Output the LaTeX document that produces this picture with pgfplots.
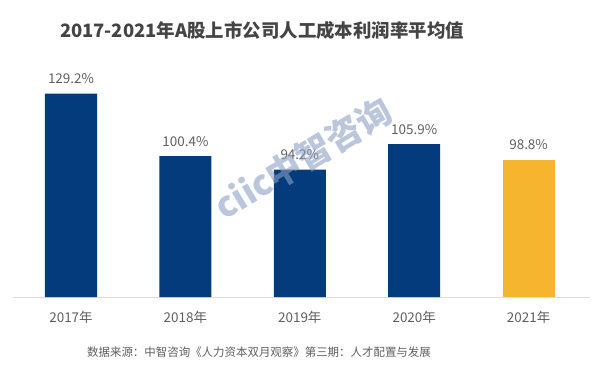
\documentclass[border=0pt]{standalone}
\usepackage{pgfplots}
\pgfplotsset{compat=1.18}
\usepackage{fontspec}
\setmainfont{Noto Sans CJK SC}
\definecolor{navy}{RGB}{4,59,124}
\definecolor{gold}{RGB}{246,181,46}
\definecolor{txt}{RGB}{95,95,95}
\definecolor{ttl}{RGB}{68,68,68}
\definecolor{base}{RGB}{220,220,220}
\definecolor{wm}{RGB}{140,160,195}
\begin{document}
\begin{tikzpicture}[x=1bp,y=1bp]
\path[use as bounding box] (0,0) rectangle (600,369);
\begin{axis}[
  at={(13bp,72bp)}, anchor=south west,
  scale only axis, width=577bp, height=237bp,
  xmin=-0.507, xmax=4.537, ymin=35.5, ymax=144.7,
  axis x line*=bottom, axis y line=none,
  x axis line style={base, line width=0.8pt, -},
  xtick={0,1,2,3,4},
  xticklabels={2017年,2018年,2019年,2020年,2021年},
  xtick style={draw=none},
  xticklabel style={text=txt, font=\fontsize{13.5}{15}\selectfont, yshift=-6bp},
  ybar, bar width=52bp, bar shift=0pt,
  /pgf/number format/assume math mode=true,
  nodes near coords={\pgfmathprintnumber[fixed,precision=1,fixed zerofill]{\pgfplotspointmeta}\%},
  nodes near coords style={text=txt, font=\fontsize{13.5}{15}\selectfont, yshift=6bp},
  clip=false,
]
\addplot[fill=navy, draw=none] coordinates {(0,129.2) (1,100.4) (2,94.2) (3,105.9)};
\addplot[fill=gold, draw=none] coordinates {(4,98.8)};
\end{axis}
\node[text=ttl, font=\fontsize{18.5}{20}\selectfont\bfseries] at (262,339) {2017-2021年A股上市公司人工成本利润率平均值};
\node[text=txt, font=\fontsize{11.5}{13}\selectfont] at (259,17) {数据来源：中智咨询《人力资本双月观察》第三期：人才配置与发展};
\node[text=wm, opacity=0.6, rotate=31, inner sep=0pt, font=\fontsize{35}{37}\selectfont\bfseries] at (303,211) {ciic中智咨询};
\end{tikzpicture}
\end{document}
